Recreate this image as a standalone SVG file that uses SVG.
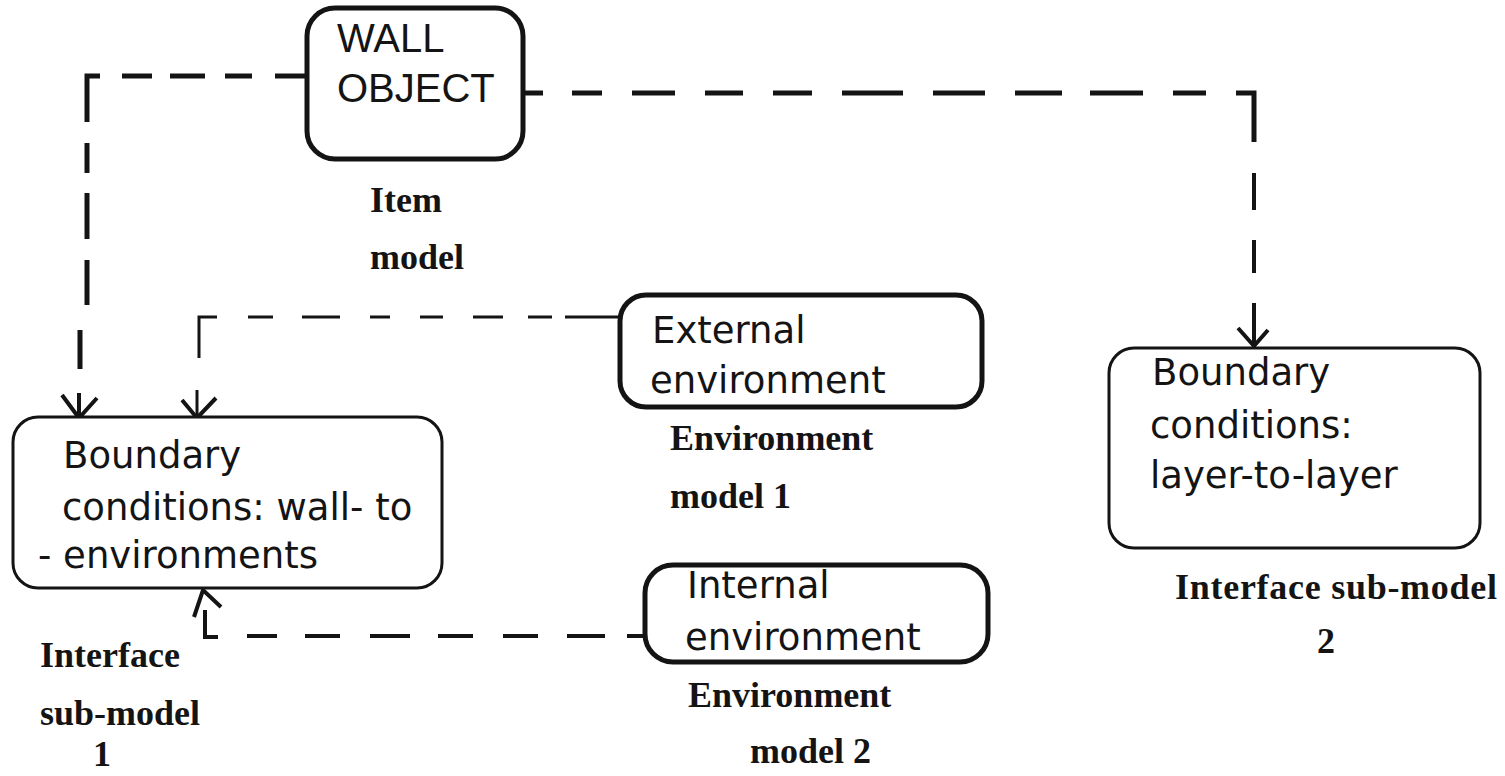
<svg xmlns="http://www.w3.org/2000/svg" width="1505" height="776" viewBox="0 0 1505 776">
<style>
.box{fill:#fff;stroke:#141414;}
.thick{stroke-width:5;}
.thin{stroke-width:3;}
.sans{font-family:"DejaVu Sans","Liberation Sans",sans-serif;font-size:37px;fill:#141414;}
.sansW{font-family:"Liberation Sans","DejaVu Sans",sans-serif;font-size:40px;fill:#141414;}
.serif{font-family:"Liberation Serif","DejaVu Serif",serif;font-weight:bold;font-size:36px;fill:#141414;}
.c5{fill:none;stroke:#141414;stroke-width:5;stroke-linecap:butt;}
.c4{fill:none;stroke:#141414;stroke-width:4;stroke-linecap:butt;}
.c3{fill:none;stroke:#141414;stroke-width:3;stroke-linecap:butt;}
.arr{fill:none;stroke:#141414;stroke-width:4;stroke-linejoin:miter;}
</style>
<rect width="1505" height="776" fill="#fff"/>

<g id="connectors">
  <!-- WALL OBJECT -> left boundary box -->
  <path class="c5" d="M305,76 H275 M252,76 H225 M205,76 H170 M152,76 H122 M100,76 H87 V122 M87,143 V173 M87,193 V239 M87,260 V305 M80,330 V369"/>
  <path class="c4" d="M79,393 V418"/>
  <polyline class="arr" points="62,395 79,418 97,398"/>

  <!-- WALL OBJECT -> right boundary box -->
  <path class="c5" d="M525,93 H543 M572,93 H602 M632,93 H675 M705,93 H743 M773,93 H812 M842,93 H903 M933,93 H985 M1015,93 H1062 M1090,93 H1143 M1173,93 H1206 M1236,93 H1254 V142"/>
  <path class="c4" d="M1254,173 V210 M1254,240 V273 M1254,303 V347"/>
  <polyline class="arr" points="1238,328 1254,346 1268,330"/>

  <!-- External environment -> left boundary box -->
  <path class="c3" d="M620,317 H565 M552,317 H528 M503,317 H473 M443,317 H420 M390,317 H370 M340,317 H302 M273,317 H248 M217,317 H199 V358"/>
  <path class="c3" d="M197,390 V418"/>
  <polyline class="arr" points="182,400 197,418 216,398"/>

  <!-- Internal environment -> left boundary box -->
  <path class="c4" d="M645,636 H627 M605,636 H567 M538,636 H503 M473,636 H438 M410,636 H370 M340,636 H305 M277,636 H247 M218,637 H205 V610"/>
  <polyline class="arr" points="194,617 203,590 221,607"/>
</g>

<g id="wall-object">
  <rect class="box thick" x="307" y="8" width="216" height="151" rx="28"/>
  <text class="sansW" x="337" y="52">WALL</text>
  <text class="sansW" x="337" y="102">OBJECT</text>
  <text class="serif" x="370" y="212">Item</text>
  <text class="serif" x="370" y="269">model</text>
</g>

<g id="external-environment">
  <rect class="box thick" x="620" y="295" width="362" height="112" rx="26"/>
  <text class="sans" x="652" y="343">External</text>
  <text class="sans" x="650" y="393">environment</text>
  <text class="serif" x="670" y="450">Environment</text>
  <text class="serif" x="670" y="508">model 1</text>
</g>

<g id="internal-environment">
  <rect class="box thick" x="645" y="565" width="343" height="97" rx="28"/>
  <text class="sans" x="687" y="598">Internal</text>
  <text class="sans" x="685" y="650">environment</text>
  <text class="serif" x="688" y="707">Environment</text>
  <text class="serif" x="750" y="763">model 2</text>
</g>

<g id="boundary-wall-to-environments">
  <rect class="box thin" x="13" y="417" width="429" height="171" rx="25"/>
  <text class="sans" x="63" y="468">Boundary</text>
  <text class="sans" x="62" y="520">conditions: wall- to</text>
  <text class="sans" x="38" y="568">- environments</text>
  <text class="serif" x="40" y="667">Interface</text>
  <text class="serif" x="40" y="725">sub-model</text>
  <text class="serif" x="93" y="766">1</text>
</g>

<g id="boundary-layer-to-layer">
  <rect class="box thin" x="1109" y="348" width="371" height="200" rx="25"/>
  <text class="sans" x="1152" y="385">Boundary</text>
  <text class="sans" x="1150" y="438">conditions:</text>
  <text class="sans" x="1150" y="488">layer-to-layer</text>
  <text class="serif" x="1175" y="599" textLength="322" lengthAdjust="spacing">Interface sub-model</text>
  <text class="serif" x="1317" y="653">2</text>
</g>
</svg>
